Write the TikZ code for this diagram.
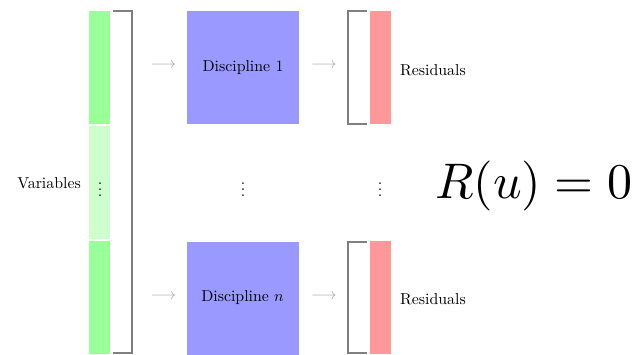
\documentclass[tikz,border=0pt]{standalone}
\usepackage{fontspec}
\newcommand{\sbx}[1]{\scalebox{1.585}{#1}}
\begin{document}
\begin{tikzpicture}[x=1pt,y=-1pt,
  txt/.style={inner sep=0pt},
  bar/.style={anchor=north west,inner sep=0pt,minimum width=21pt,minimum height=113pt},
  varbar/.style={bar,fill=green!40},
  varmid/.style={bar,fill=green!20},
  resbar/.style={bar,fill=red!40},
  disc/.style={txt,fill=blue!40,minimum width=112pt,minimum height=113pt},
  flow/.style={txt,text=black!35},
  bracket/.style={draw=black!50,line width=1.5pt},
]
\useasboundingbox (0,0) rectangle (637,354);

% variable vector
\node[varbar] (v1) at (89,11) {};
\node[varmid] (v2) at (89,126) {};
\node[varbar] (v3) at (89,241) {};
\node[txt] (vdots) at (100,185) {\sbx{$\vdots$}};
\node[txt,anchor=east] (vlabel) at (81,183) {\sbx{Variables}};
\draw[bracket] (113,11) -- (132,11) -- (132,353) -- (113,353);

% disciplines
\node[disc] (d1) at (243,67.5) {\sbx{Discipline 1}};
\node[disc] (dn) at (242.5,298) {\sbx{Discipline $n$}};
\node[txt] (ddots) at (243,185) {\sbx{$\vdots$}};

% flow arrows
\node[flow] (a1) at (163.5,66) {\sbx{$\longrightarrow$}};
\node[flow] (b1) at (324,66) {\sbx{$\longrightarrow$}};
\node[flow] (an) at (163.5,297) {\sbx{$\longrightarrow$}};
\node[flow] (bn) at (324,297) {\sbx{$\longrightarrow$}};

% residual vectors
\draw[bracket] (367,11) -- (348,11) -- (348,124) -- (367,124);
\node[resbar] (r1) at (370,11) {};
\node[txt,anchor=west] (rl1) at (400,70) {\sbx{Residuals}};
\draw[bracket] (367,242) -- (348,242) -- (348,353) -- (367,353);
\node[resbar] (rn) at (370,241) {};
\node[txt,anchor=west] (rln) at (400,299) {\sbx{Residuals}};
\node[txt] (rdots) at (380,185) {\sbx{$\vdots$}};

% system equation
\node[inner sep=0pt,anchor=base west] (eq) at (435,198) {\scalebox{5}{$R(u) = 0$}};
\end{tikzpicture}
\end{document}
